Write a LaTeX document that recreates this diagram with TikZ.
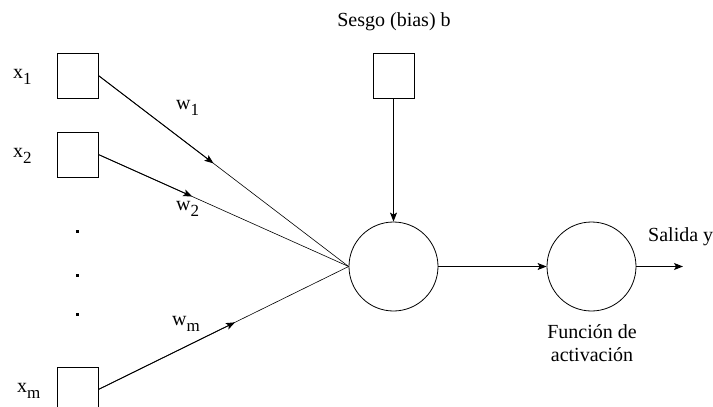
\documentclass[tikz,border=0pt]{standalone}
\usepackage{fontspec}
\setmainfont{Liberation Serif}
\usetikzlibrary{arrows.meta,calc}
\newcommand{\lsub}[1]{\raisebox{-6.5pt}{\fontsize{17}{17}\selectfont #1}}
\begin{document}
\begin{tikzpicture}[x=1pt,y=-1pt,
  every node/.style={font=\fontsize{20}{23.4}\selectfont, inner sep=0pt},
  inbox/.style={draw, line width=0.8pt, minimum width=41pt, minimum height=45pt},
  neuron/.style={draw, circle, line width=0.8pt, minimum size=89pt},
  conn/.style={line width=0.9pt, -{Stealth[length=9pt,width=7pt,inset=2pt]}},
  thinline/.style={line width=0.6pt},
  dotmark/.style={fill, minimum size=3pt},
  lbl/.style={anchor=base west}]
\useasboundingbox (0,0) rectangle (713,407);

% boxes and neurons
\node[inbox] (b1) at (77.5,75.5) {};
\node[inbox] (b2) at (77.5,154.5) {};
\node[inbox] (bm) at (77.5,389.5) {};
\node[inbox] (bb) at (393.5,75.5) {};
\node[neuron] (sum) at (393.5,266.5) {};
\node[neuron] (act) at (591.5,266.5) {};

% dots
\node[dotmark] (d1) at (77,231) {};
\node[dotmark] (d2) at (77,275) {};
\node[dotmark] (d3) at (77,314) {};

% labels
\node[lbl] (lx1) at (13,78) {x\lsub{1}};
\node[lbl] (lx2) at (13,157) {x\lsub{2}};
\node[lbl] (lxm) at (17,392) {x\lsub{m}};
\node[lbl] (lw1) at (176,109) {w\lsub{1}};
\node[lbl] (lw2) at (176,210) {w\lsub{2}};
\node[lbl] (lwm) at (172,325) {w\lsub{m}};
\node[anchor=base] (lb) at (394,26) {Sesgo (bias) b};
\node[lbl] (ly) at (648,241.5) {Salida y};
\node[align=center] (lf) at (592,343.2) {Función de\\activación};

% weighted input connectors
\coordinate (a1) at ($(b1.east)!0.46!(sum.west)$);
\coordinate (a2) at ($(b2.east)!0.375!(sum.west)$);
\coordinate (am) at ($(bm.east)!0.546!(sum.west)$);
\draw[thinline] (b1.east) -- (sum.west);
\draw[thinline] (b2.east) -- (sum.west);
\draw[thinline] (bm.east) -- (sum.west);
\draw[conn] (b1.east) -- (a1);
\draw[conn] (b2.east) -- (a2);
\draw[conn] (bm.east) -- (am);

% bias and output
\draw[conn] (bb.south) -- (sum.north);
\draw[conn] (sum.east) -- (act.west);
\coordinate (out) at (683,266.5);
\draw[conn] (act.east) -- (out);
\end{tikzpicture}
\end{document}
